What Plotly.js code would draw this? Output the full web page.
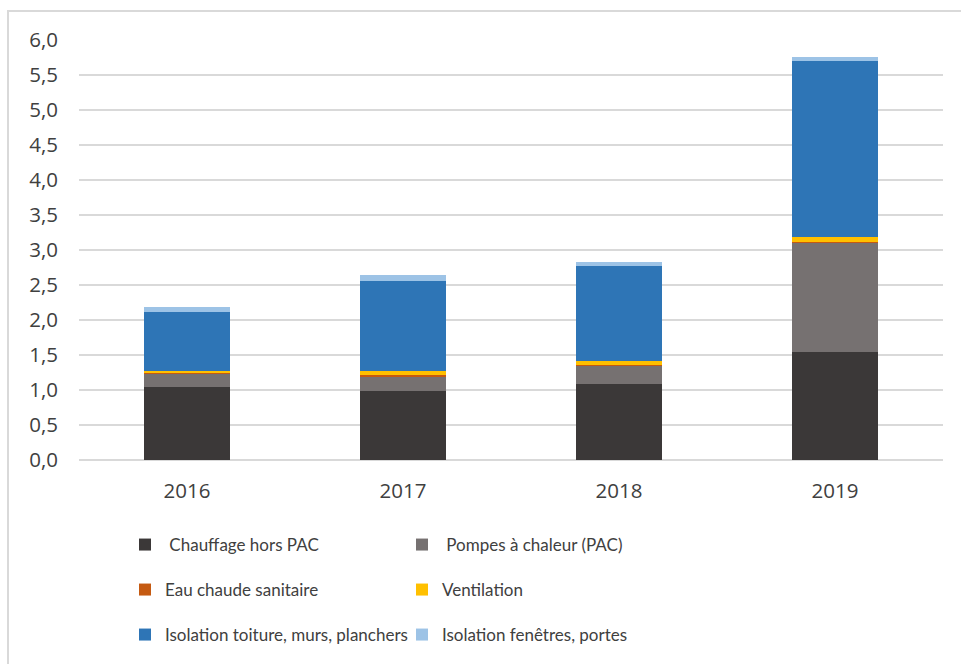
<!DOCTYPE html>
<html>
<head>
<meta charset="utf-8">
<script src="https://cdn.plot.ly/plotly-3.0.1.min.js"></script>
<style>
  html, body { margin: 0; padding: 0; background: #fff; overflow: hidden; }
  #wrap { position: relative; width: 961px; height: 664px; overflow: hidden; }
  #chart { width: 961px; height: 664px; }
  #frame { position: absolute; left: 7px; top: 10px; width: 1000px; height: 1000px;
           border: 2px solid #d9d9d9; pointer-events: none; box-sizing: border-box; }
</style>
</head>
<body>
<div id="wrap">
  <div id="chart"></div>
  <div id="frame"></div>
</div>
<script>
const years = ["2016", "2017", "2018", "2019"];
const seriesNames = [
  "\u00a0Chauffage hors PAC",
  "\u00a0Pompes à chaleur (PAC)",
  "Eau chaude sanitaire",
  "Ventilation",
  "Isolation toiture, murs, planchers",
  "Isolation fenêtres, portes"
];
const chauffage   = [1.05, 0.98, 1.08, 1.54];
const pompes      = [0.18, 0.21, 0.26, 1.56];
const eauChaude   = [0.02, 0.02, 0.02, 0.02];
const ventilation = [0.02, 0.06, 0.05, 0.065];
const isolMurs    = [0.85, 1.29, 1.36, 2.52];
const isolFen     = [0.07, 0.08, 0.06, 0.05];
const yTicks = [0, 0.5, 1, 1.5, 2, 2.5, 3, 3.5, 4, 4.5, 5, 5.5, 6];

const seriesValues = [chauffage, pompes, eauChaude, ventilation, isolMurs, isolFen];
const colors = ["#3b3838", "#767171", "#c55a11", "#ffc000", "#2e75b6", "#9dc3e6"];
const legendIds = ["legend", "legend", "legend2", "legend2", "legend3", "legend3"];

const traces = seriesValues.map((vals, i) => ({
  type: "bar",
  x: years,
  y: vals,
  name: seriesNames[i],
  legend: legendIds[i],
  marker: { color: colors[i], line: { width: 0 } },
  width: 0.4,
  hoverinfo: "x+y+name"
}));

const W = 961, H = 664;
const legendFont = { family: "Lato, sans-serif", size: 17, color: "#404040" };
function mkLegend(px, py) {
  return {
    orientation: "h",
    xref: "container", yref: "container",
    x: px / W, y: 1 - py / H,
    xanchor: "left", yanchor: "middle",
    entrywidthmode: "pixels", entrywidth: 232,
    font: legendFont,
    bgcolor: "rgba(0,0,0,0)",
    traceorder: "normal"
  };
}

const layout = {
  width: W, height: H,
  margin: { l: 79, r: 18, t: 40, b: 204 },
  paper_bgcolor: "rgba(0,0,0,0)",
  plot_bgcolor: "#fff",
  barmode: "stack",
  separators: ", ",
  showlegend: true,
  font: { family: "Open Sans, sans-serif", color: "#404040" },
  xaxis: {
    type: "category",
    tickfont: { family: "Open Sans, sans-serif", size: 20.5, color: "#404040" },
    ticks: "", showgrid: false, showline: false, zeroline: false,
    ticklabelstandoff: 16,
    fixedrange: true
  },
  yaxis: {
    range: [0, 6],
    tickvals: yTicks,
    tickformat: ".1f",
    tickfont: { family: "Open Sans, sans-serif", size: 20.5, color: "#404040" },
    ticks: "",
    ticklabelstandoff: 20,
    showgrid: true, gridcolor: "#d9d9d9", gridwidth: 1.3,
    zeroline: true, zerolinecolor: "#d9d9d9", zerolinewidth: 1.3,
    showline: false,
    fixedrange: true
  },
  legend: mkLegend(125, 545),
  legend2: mkLegend(125, 590),
  legend3: mkLegend(125, 635)
};

Plotly.newPlot("chart", traces, layout, { displayModeBar: false, staticPlot: true });
</script>
</body>
</html>
